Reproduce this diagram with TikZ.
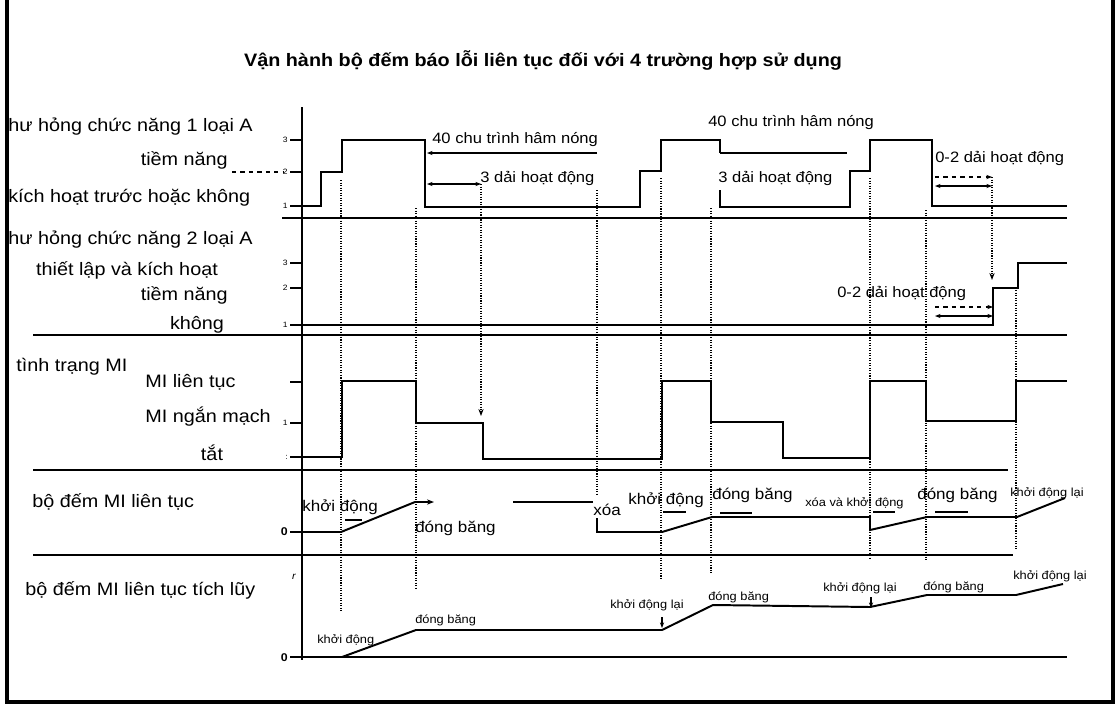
\documentclass[tikz,border=0pt]{standalone}
\usepackage{fontspec}
\setmainfont{Liberation Sans}[FakeStretch=1.1]
\usetikzlibrary{arrows.meta}

\begin{document}
\begin{tikzpicture}[
    x=0.025cm, y=-0.025cm,
    lbl/.style={
        font=\fontsize{12.8}{14}\selectfont,
        inner sep=0pt
    },
    note/.style={
        font=\fontsize{10.7}{12}\selectfont,
        inner sep=0pt, anchor=west
    },
    evt/.style={
        font=\fontsize{11}{12}\selectfont,
        inner sep=0pt, anchor=west
    },
    small/.style={
        font=\fontsize{8.3}{9}\selectfont,
        inner sep=0pt, anchor=west
    },
    ticklbl/.style={
        font=\fontsize{5.5}{6}\selectfont,
        inner sep=0pt, anchor=east
    },
    sig/.style={line width=1.4pt},
    sep/.style={line width=1.2pt},
    marker/.style={densely dotted, line width=0.8pt},
    span/.style={line width=0.9pt, {Stealth[length=4pt]}-{Stealth[length=4pt]}},
    pointer/.style={line width=0.8pt, -{Stealth[length=4pt]}}
]
\useasboundingbox (0,0) rectangle (1118,705);

% Title
\node[lbl, font=\fontsize{12.8}{14}\selectfont\bfseries] (title) at (543,60)
    {Vận hành bộ đếm báo lỗi liên tục đối với 4 trường hợp sử dụng};

% Frame
\draw[line width=3pt] (7,0) -- (7,702) -- (1113,702) -- (1113,0);

% Axis and separators
\draw[sep] (302,107) -- (302,660);
\draw[sep] (282,218) -- (1067,218);
\draw[sep] (33,335) -- (1067,335);
\draw[sep] (33,470) -- (1008,470);
\draw[sep] (33,555) -- (1013,555);
\draw[sep] (290,657) -- (1067,657);

% Row labels
\node[lbl, anchor=west] (f1)   at (8,127)  {hư hỏng chức năng 1 loại A};
\node[lbl, anchor=east] (f1p)  at (228,160) {tiềm năng};
\node[lbl, anchor=west] (f1n)  at (8,198)  {kích hoạt trước hoặc không};
\node[lbl, anchor=west] (f2)   at (8,240)  {hư hỏng chức năng 2 loại A};
\node[lbl]              (f2s)  at (127,270) {thiết lập và kích hoạt};
\node[lbl, anchor=east] (f2p)  at (228,295) {tiềm năng};
\node[lbl]              (f2n)  at (197,325) {không};
\node[lbl, anchor=west] (mi)   at (16,367) {tình trạng MI};
\node[lbl, anchor=west] (mic)  at (145,382) {MI liên tục};
\node[lbl, anchor=west] (mis)  at (145,417) {MI ngắn mạch};
\node[lbl]              (mio)  at (212,453) {tắt};
\node[lbl, anchor=west] (cnt)  at (32,502) {bộ đếm MI liên tục};
\node[lbl, anchor=west] (acc)  at (25,590) {bộ đếm MI liên tục tích lũy};

% Ticks
\foreach \y in {140,172,206,263,288,382,423,457,532,657}
    \draw[sep] (290,\y) -- (302,\y);
\draw[dashed, line width=0.9pt] (232,172) -- (283,172);
\node[ticklbl] (t13) at (288,140) {3};
\node[ticklbl] (t12) at (288,172) {2};
\node[ticklbl] (t11) at (288,206) {1};
\node[ticklbl] (t23) at (288,263) {3};
\node[ticklbl] (t22) at (288,288) {2};
\node[ticklbl] (t21) at (288,325) {1};
\node[ticklbl] (t32) at (288,423) {1};
\node[ticklbl] (t31) at (288,457) {:};
\node[ticklbl, font=\fontsize{8}{8}\selectfont\bfseries] (t40) at (288,532) {0};
\node[ticklbl, font=\fontsize{7}{7}\selectfont\itshape] (t5r) at (296,577) {r};
\node[ticklbl, font=\fontsize{8}{8}\selectfont\bfseries] (t50) at (288,658) {0};

% Event markers
\foreach \x/\a/\b in {341/180/612, 416/208/590, 597/190/495, 661/178/578,
                      711/208/573, 870/178/560, 926/210/560, 1016/290/550}
    \draw[marker] (\x,\a) -- (\x,\b);

% Fault 1 signal
\draw[sig] (302,206) -- (321,206) -- (321,172) -- (342,172) -- (342,140)
    -- (425,140) -- (425,207) -- (640,207) -- (640,171) -- (661,171)
    -- (661,140) -- (720,140) -- (720,153);
\draw[sig] (720,190) -- (720,207) -- (850,207) -- (850,171) -- (870,171)
    -- (870,140) -- (932,140) -- (932,206) -- (1067,206);

% Fault 2 signal
\draw[sig] (290,325) -- (993,325) -- (993,288) -- (1018,288) -- (1018,263)
    -- (1067,263);

% MI status
\draw[sig] (302,457) -- (342,457) -- (342,381) -- (416,381) -- (416,423)
    -- (483,423) -- (483,459) -- (662,459) -- (662,381) -- (711,381)
    -- (711,422) -- (783,422) -- (783,458) -- (870,458) -- (870,381)
    -- (926,381) -- (926,421) -- (1016,421) -- (1016,381) -- (1067,381);

% MI counter
\draw[sig, -{Stealth[length=5pt]}] (290,532) -- (341,532) -- (415,502) -- (434,502);
\draw[sig] (513,502) -- (593,502);
\draw[sig] (597,518) -- (597,532) -- (662,532) -- (712,517) -- (870,517)
    -- (870,530) -- (927,517) -- (1017,517) -- (1065,498);

% Cumulative counter
\draw[sig] (342,657) -- (416,630) -- (662,630) -- (713,605) -- (870,607)
    -- (927,595) -- (1016,595) -- (1063,584);

% Warm-up / drive cycle annotations
\node[note] (wu1) at (432,140) {40 chu trình hâm nóng};
\node[note] (dc1) at (480,178) {3 dải hoạt động};
\node[note] (wu2) at (708,123) {40 chu trình hâm nóng};
\node[note] (dc2) at (718,178) {3 dải hoạt động};
\node[note] (dc3) at (935,158) {0-2 dải hoạt động};
\node[note] (dc4) at (837,293) {0-2 dải hoạt động};

\coordinate (wu1a) at (597,153);  \coordinate (wu1b) at (427,153);
\coordinate (dc1a) at (427,184);  \coordinate (dc1b) at (481,184);
\coordinate (dc1c) at (481,416);
\coordinate (wu2a) at (720,153);  \coordinate (wu2b) at (847,153);
\coordinate (dc3a) at (935,177);  \coordinate (dc3b) at (992,177);
\coordinate (dc3c) at (935,186);  \coordinate (dc3d) at (992,186);
\coordinate (dc3e) at (992,280);
\coordinate (dc4a) at (935,307);  \coordinate (dc4b) at (993,307);
\coordinate (dc4c) at (935,316);  \coordinate (dc4d) at (993,316);

\draw[pointer] (wu1a) -- (wu1b);
\draw[span] (dc1a) -- (dc1b);
\draw[marker, -{Stealth[length=5pt]}] (dc1b) -- (dc1c);
\draw[line width=0.9pt] (wu2a) -- (wu2b);
\draw[pointer, dashed] (dc3a) -- (dc3b);
\draw[span] (dc3c) -- (dc3d);
\draw[marker, -{Stealth[length=5pt]}] (dc3b) -- (dc3e);
\draw[pointer, dashed] (dc4a) -- (dc4b);
\draw[span] (dc4c) -- (dc4d);

% Counter events
\node[evt] (c1) at (302,507) {khởi động};
\node[evt] (c2) at (415,528) {đóng băng};
\node[evt] (c3) at (593,510) {xóa};
\node[evt] (c4) at (628,500) {khởi động};
\node[evt] (c5) at (712,495) {đóng băng};
\node[small] (c6) at (805,503) {xóa và khởi động};
\node[evt] (c7) at (917,495) {đóng băng};
\node[small] (c8) at (1010,493) {khởi động lại};
\foreach \a/\b/\y in {345/362/520, 663/686/512, 720/752/513, 873/895/512, 935/968/512}
    \draw[line width=0.8pt] (\a,\y) -- (\b,\y);

% Cumulative events
\node[small] (a1) at (317,640) {khởi động};
\node[small] (a2) at (415,620) {đóng băng};
\node[small] (a3) at (610,605) {khởi động lại};
\node[small] (a4) at (708,597) {đóng băng};
\node[small] (a5) at (823,588) {khởi động lại};
\node[small] (a6) at (923,587) {đóng băng};
\node[small] (a7) at (1013,576) {khởi động lại};
\coordinate (r1a) at (662,617);  \coordinate (r1b) at (662,628);
\coordinate (r2a) at (871,597);  \coordinate (r2b) at (871,608);
\draw[pointer] (r1a) -- (r1b);
\draw[pointer] (r2a) -- (r2b);

\end{tikzpicture}
\end{document}
